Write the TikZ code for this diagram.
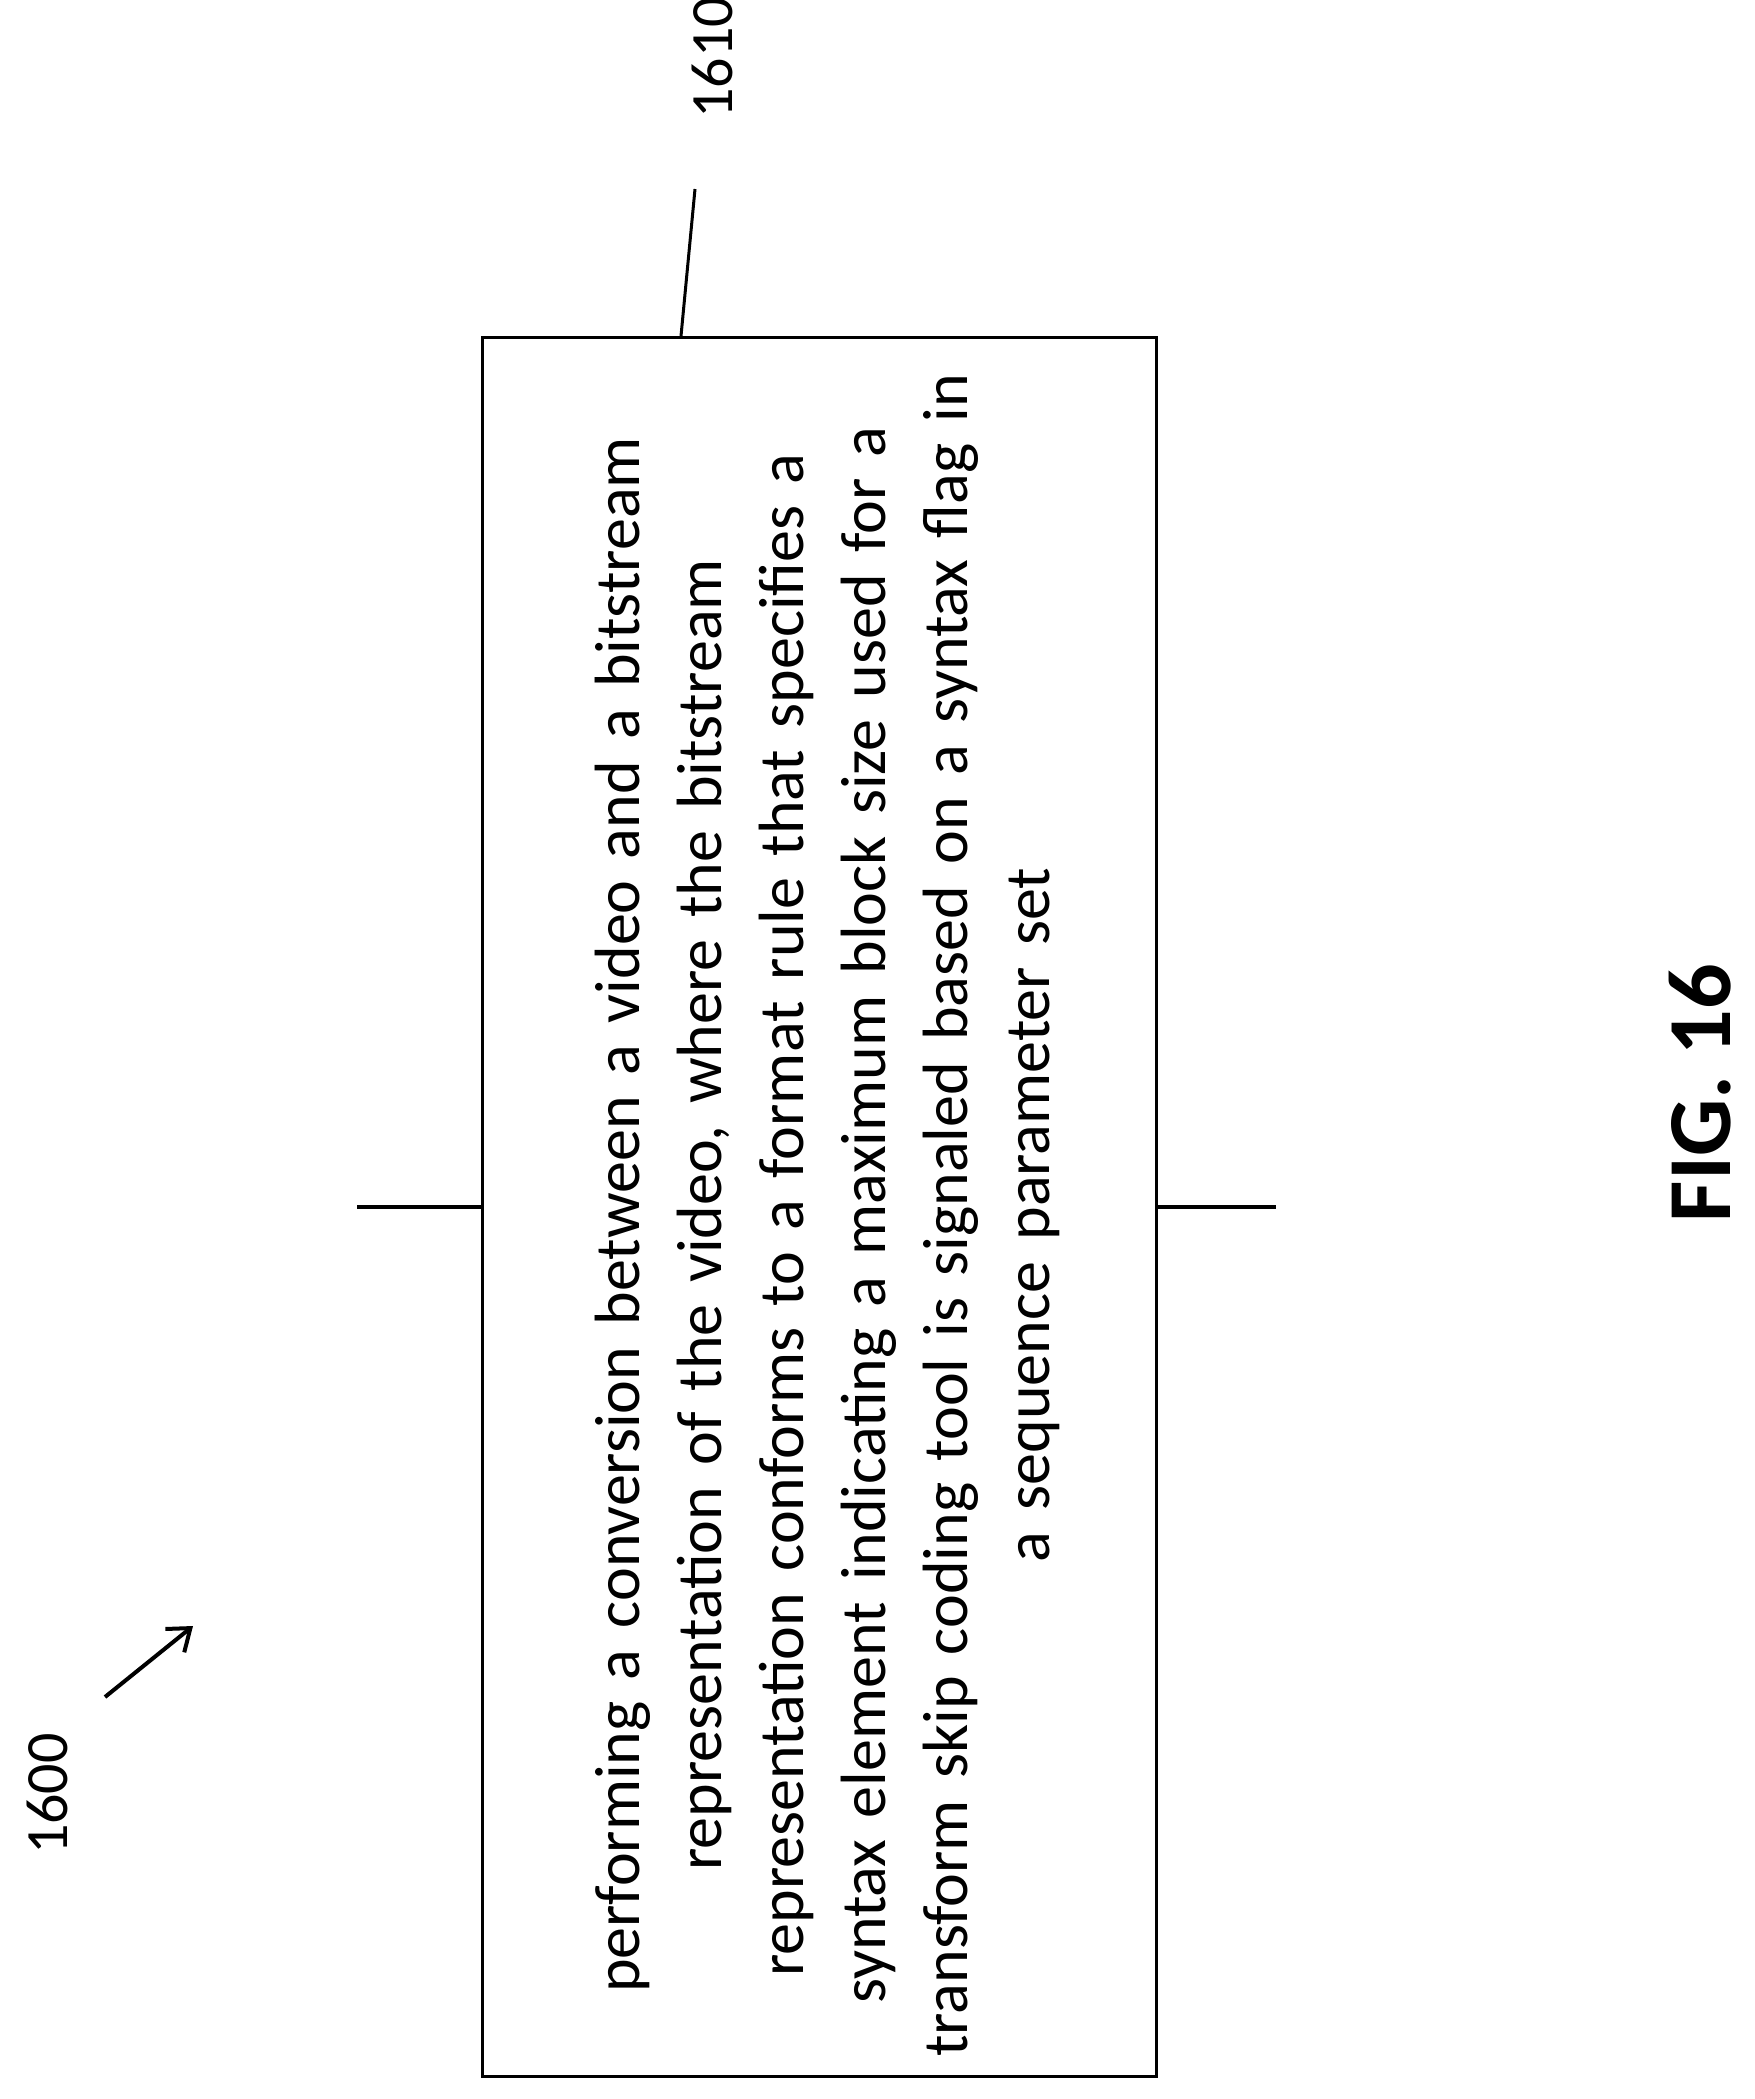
\documentclass[tikz,border=0pt]{standalone}
\usepackage{fontspec}
\setmainfont{Carlito}
\usetikzlibrary{arrows.meta}
\begin{document}
\begin{tikzpicture}[x=1pt,y=-1pt,line width=4pt,
  lbl/.style={font=\fontsize{60}{70}\selectfont,rotate=90,inner sep=0pt}]
\useasboundingbox (0,0) rectangle (1754,2099);
\node[draw,line width=3pt,minimum width=674pt,minimum height=1739pt,inner sep=0pt] (box) at (819,1206.5) {};
\node[rotate=90,align=center,font=\fontsize{64}{82}\selectfont,text width=1700pt,inner sep=0pt] (txt) at (827,1215)
 {performing a conversion between a video and a bitstream\\
 representation of the video, where the bitstream\\
 representation conforms to a format rule that specifies a\\
 syntax element indicating a maximum block size used for a\\
 transform skip coding tool is signaled based on a syntax flag in\\
 a sequence parameter set};
\coordinate (tl) at (357,1206.5);
\coordinate (tr) at (1276,1206.5);
\draw (tl) -- (box.west);
\draw (box.east) -- (tr);
\node[lbl] (n1610) at (712,58) {1610};
\coordinate (l1) at (695,189);
\coordinate (l2) at (681,336);
\draw[line width=3pt] (l1) -- (l2);
\node[lbl] (n1600) at (47,1794) {1600};
\coordinate (a1) at (105,1697);
\coordinate (a2) at (193,1626);
\draw[-{Straight Barb[length=20pt,width=30pt,line width=4pt]}] (a1) -- (a2);
\node[rotate=90,font=\fontsize{90}{100}\selectfont\bfseries,inner sep=0pt] (fig) at (1700,1093) {FIG. 16};
\end{tikzpicture}
\end{document}
